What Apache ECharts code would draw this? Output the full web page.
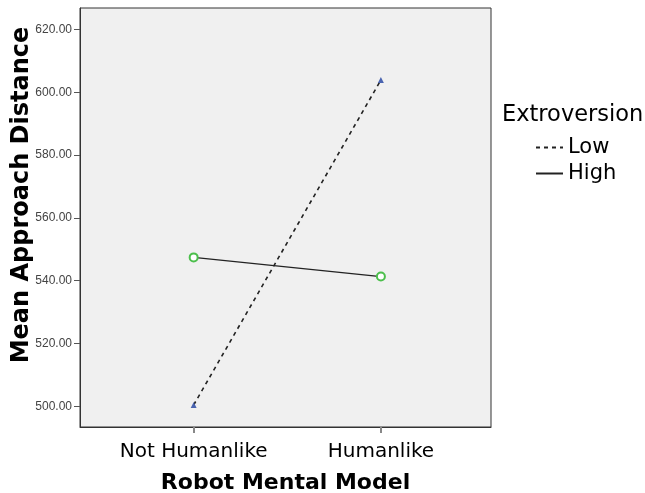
<!DOCTYPE html>
<html>
<head>
<meta charset="utf-8">
<script src="https://cdn.jsdelivr.net/npm/echarts@6/dist/echarts.min.js"></script>
<style>html,body{margin:0;padding:0;background:#fff}#c{width:645px;height:493px}</style>
</head>
<body>
<div id="c"></div>
<script>
var categories = ['Not Humanlike', 'Humanlike'];
var lowValues = [500.4, 603.9];
var highValues = [547.4, 541.3];
var yTicks = [500, 520, 540, 560, 580, 600, 620];
var seriesNames = ['Low', 'High'];

var chart = echarts.init(document.getElementById('c'), null, {renderer: 'canvas'});
var font = '"DejaVu Sans", "Liberation Sans", Arial, sans-serif';
var font2 = '"Liberation Sans", Arial, sans-serif';
function pairs(vals) { return vals.map(function (v, i) { return [i, v]; }); }

chart.setOption({
  animation: false,
  backgroundColor: '#ffffff',
  textStyle: {fontFamily: font},
  title: {
    text: 'Extroversion', left: 497, top: 99,
    textStyle: {fontFamily: font, fontSize: 22.5, fontWeight: 'normal', color: '#000'}
  },
  legend: {
    orient: 'vertical', left: 530, top: 132, itemGap: 5,
    itemWidth: 27, itemHeight: 14,
    data: seriesNames,
    itemStyle: {opacity: 0},
    textStyle: {fontFamily: font, fontSize: 21, color: '#000'}
  },
  grid: {left: 80, right: 154, top: 8, bottom: 66, outerBoundsMode: 'none', containLabel: false,
    show: true, backgroundColor: '#f0f0f0', borderColor: '#333', borderWidth: 1},
  xAxis: {
    type: 'value', min: -0.607, max: 1.588,
    name: 'Robot Mental Model', nameLocation: 'middle', nameGap: 45, nameMoveOverlap: false,
    nameTextStyle: {fontFamily: font, fontSize: 22, fontWeight: 'bold', color: '#000'},
    axisLine: {show: true, onZero: false, lineStyle: {color: '#333'}},
    splitLine: {show: false},
    axisTick: {show: true, length: 6, customValues: [0, 1], lineStyle: {color: '#888', width: 2}},
    axisLabel: {customValues: [0, 1], margin: 15, fontSize: 20, color: '#000', fontFamily: font,
      formatter: function (v) { return categories[Math.round(v)]; }}
  },
  yAxis: {
    type: 'value', min: 493.39, max: 626.83,
    name: 'Mean Approach Distance', nameLocation: 'middle', nameGap: 46, nameMoveOverlap: false,
    nameTextStyle: {fontFamily: font, fontSize: 24, fontWeight: 'bold', color: '#000', padding: [0, 0, 0, 45]},
    axisLine: {show: true, onZero: false, lineStyle: {color: '#333'}},
    splitLine: {show: false},
    axisTick: {show: true, length: 6, customValues: yTicks, lineStyle: {color: '#555'}},
    axisLabel: {customValues: yTicks, margin: 8, fontSize: 12, color: '#444', fontFamily: font2,
      formatter: function (v) { return v.toFixed(2); }}
  },
  series: [
    {
      name: seriesNames[0], type: 'line', data: pairs(lowValues),
      symbol: 'triangle', symbolSize: 6,
      itemStyle: {color: '#4a64b0'},
      lineStyle: {color: '#222', width: 1.6, type: [4, 4]}
    },
    {
      name: seriesNames[1], type: 'line', data: pairs(highValues),
      symbol: 'emptyCircle', symbolSize: 8,
      itemStyle: {color: '#4cbf4c', borderWidth: 1},
      lineStyle: {color: '#222', width: 1.3, type: 'solid'}
    }
  ]
});
</script>
</body>
</html>
